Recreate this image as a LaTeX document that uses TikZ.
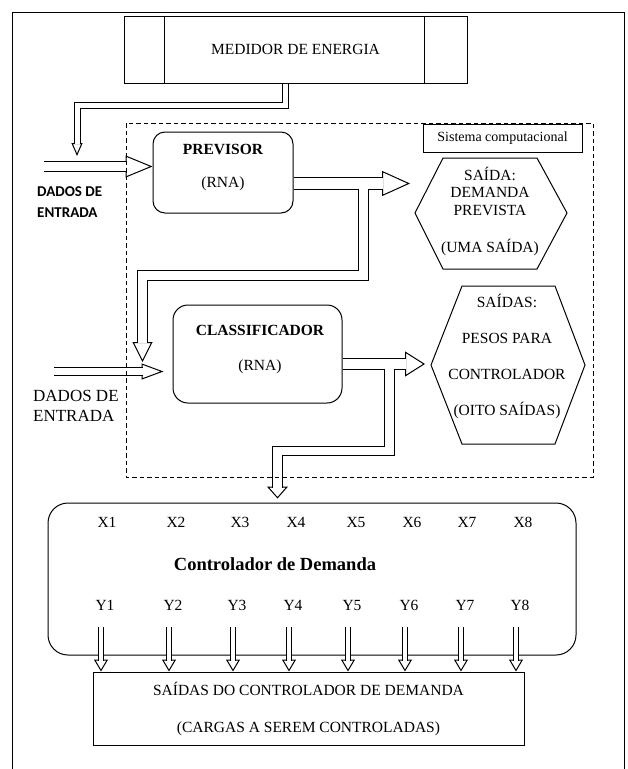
\documentclass[tikz,border=0pt]{standalone}
\usepackage{fontspec}
\setmainfont{Liberation Serif}
\newfontfamily\carlito{Carlito}
\usetikzlibrary{arrows.meta}

\begin{document}
\begin{tikzpicture}[x=1pt,y=-1pt]
  \tikzset{box/.style = {draw, line width=1pt, inner sep=0pt}}
  \tikzset{rbox/.style = {box, rounded corners=12pt}}
  \tikzset{txt/.style = {font=\fontsize{15.5}{18}\selectfont, inner sep=1pt}}
  \tikzset{bold/.style = {txt, font=\fontsize{15.5}{18}\selectfont\bfseries}}
  \tikzset{hollow/.style n args = {3}{draw=white, line width=1pt,
      -{Triangle[open, color=black, length=#2, width=#3]},
      postaction={draw=black, -, line width=1pt, double=white, double distance=#1, shorten >=#2-1pt}}}

\useasboundingbox (0,0) rectangle (627,769);
\draw[line width=1pt] (12,769) -- (12,12) -- (624,12) -- (624,769);

\node[box, txt, minimum width=343, minimum height=67] (med) at (295.5,49.5) {MEDIDOR DE ENERGIA};
\draw[line width=1pt] ([xshift=41pt]med.north west) -- ([xshift=41pt]med.south west);
\draw[line width=1pt] ([xshift=-43pt]med.north east) -- ([xshift=-43pt]med.south east);

\node[box, txt, font=\fontsize{14}{16}\selectfont, minimum width=159, minimum height=28] (sis) at (502.5,138) {Sistema computacional};

\node[rbox, minimum width=140, minimum height=81] (prev) at (223,172.5) {};
\node[bold] (prevt) at (223,149) {PREVISOR};
\node[txt] (prevr) at (223,184) {(RNA)};

\node[rbox, rounded corners=15pt, minimum width=169, minimum height=98] (class) at (257.5,354) {};
\node[bold] (classt) at (260,330) {CLASSIFICADOR};
\node[txt] (classr) at (260,367) {(RNA)};

\node[txt, align=center, font=\fontsize{15.5}{17.5}\selectfont] (h1) at (490,211) {SAÍDA:\\DEMANDA\\PREVISTA\\[19.5pt](UMA SAÍDA)};
\draw[line width=1pt] (415,213) -- (443,158) -- (537,158) -- (567,213) -- (537,269) -- (443,269) -- cycle;

\node[txt, align=center, font=\fontsize{15.5}{35.7}\selectfont] (h2) at (507,356.5) {SAÍDAS:\\PESOS PARA\\CONTROLADOR\\(OITO SAÍDAS)};
\draw[line width=1pt] (431,365) -- (462,286) -- (555,286) -- (585,365) -- (555,444) -- (462,444) -- cycle;

\node[anchor=west, align=left, inner sep=0pt, font=\carlito\bfseries\fontsize{15}{20.5}\selectfont] (dados1) at (37,202) {DADOS DE\\ENTRADA};
\node[anchor=west, align=left, inner sep=0pt, font=\fontsize{17}{20}\selectfont] (dados2) at (33,406) {DADOS DE\\ENTRADA};

\node[rbox, rounded corners=20pt, minimum width=528, minimum height=152] (ctrl) at (312,579) {};
\node[bold, font=\fontsize{18.5}{22}\selectfont\bfseries] (ctrlt) at (275,564) {Controlador de Demanda};

\node[txt] (x1) at (107,522) {X1};
\node[txt] (x2) at (176,522) {X2};
\node[txt] (x3) at (240,522) {X3};
\node[txt] (x4) at (296,522) {X4};
\node[txt] (x5) at (356,522) {X5};
\node[txt] (x6) at (412,522) {X6};
\node[txt] (x7) at (467,522) {X7};
\node[txt] (x8) at (523,522) {X8};

\node[txt] (y1) at (105,605) {Y1};
\node[txt] (y2) at (173,605) {Y2};
\node[txt] (y3) at (237,605) {Y3};
\node[txt] (y4) at (293,605) {Y4};
\node[txt] (y5) at (352,605) {Y5};
\node[txt] (y6) at (409,605) {Y6};
\node[txt] (y7) at (465,605) {Y7};
\node[txt] (y8) at (520,605) {Y8};

\node[box, txt, align=center, font=\fontsize{15.5}{37}\selectfont, minimum width=431, minimum height=73] (out) at (308.5,708.5) {SAÍDAS DO CONTROLADOR DE DEMANDA\\(CARGAS A SEREM CONTROLADAS)};

\coordinate (in1) at (44,166.5);
\coordinate (in2) at (54,371.5);
\coordinate (mtip) at (77,156);
\coordinate (p1) at (410,183.5);
\coordinate (pb) at (363,188.8);
\coordinate (ctip) at (142.5,362);
\coordinate (c2) at (425,364);
\coordinate (cb) at (389.5,368.8);

\draw[hollow={5pt}{13pt}{11pt}] ([xshift=-10.5pt]med.south) -- ++(0,21.5) -| (mtip);
\draw[hollow={9pt}{27pt}{22pt}] (in1) -- ([yshift=6pt]prev.west);
\draw[hollow={11pt}{28pt}{25pt}] ([yshift=-11pt]prev.east) -- (p1);
\draw[hollow={9pt}{20pt}{20pt}] (pb) -- ++(0,86.7) -| (ctip);
\draw[hollow={7pt}{22pt}{16pt}] (in2) -- ([xshift=-9pt,yshift=-17.5pt]class.west);
\draw[hollow={10pt}{20pt}{25pt}] ([yshift=-10pt]class.east) -- (c2);
\draw[hollow={8.5pt}{12pt}{21pt}] (cb) -- ++(0,82.2) -| ([xshift=-34.5pt,yshift=4pt]ctrl.north);

\draw[hollow={4.5pt}{12pt}{14pt}] ([xshift=-4pt,yshift=-16pt]y1.south) -- ([xshift=-4pt]y1.south |- out.north);
\draw[hollow={4.5pt}{12pt}{14pt}] ([xshift=-4pt,yshift=-16pt]y2.south) -- ([xshift=-4pt]y2.south |- out.north);
\draw[hollow={4.5pt}{12pt}{14pt}] ([xshift=-4pt,yshift=-16pt]y3.south) -- ([xshift=-4pt]y3.south |- out.north);
\draw[hollow={4.5pt}{12pt}{14pt}] ([xshift=-4pt,yshift=-16pt]y4.south) -- ([xshift=-4pt]y4.south |- out.north);
\draw[hollow={4.5pt}{12pt}{14pt}] ([xshift=-4pt,yshift=-16pt]y5.south) -- ([xshift=-4pt]y5.south |- out.north);
\draw[hollow={4.5pt}{12pt}{14pt}] ([xshift=-4pt,yshift=-16pt]y6.south) -- ([xshift=-4pt]y6.south |- out.north);
\draw[hollow={4.5pt}{12pt}{14pt}] ([xshift=-4pt,yshift=-16pt]y7.south) -- ([xshift=-4pt]y7.south |- out.north);
\draw[hollow={4.5pt}{12pt}{14pt}] ([xshift=-4pt,yshift=-16pt]y8.south) -- ([xshift=-4pt]y8.south |- out.north);

\draw[line width=1pt, dash pattern=on 4.5pt off 3pt] (126,123) rectangle (593,477);

\end{tikzpicture}
\end{document}
